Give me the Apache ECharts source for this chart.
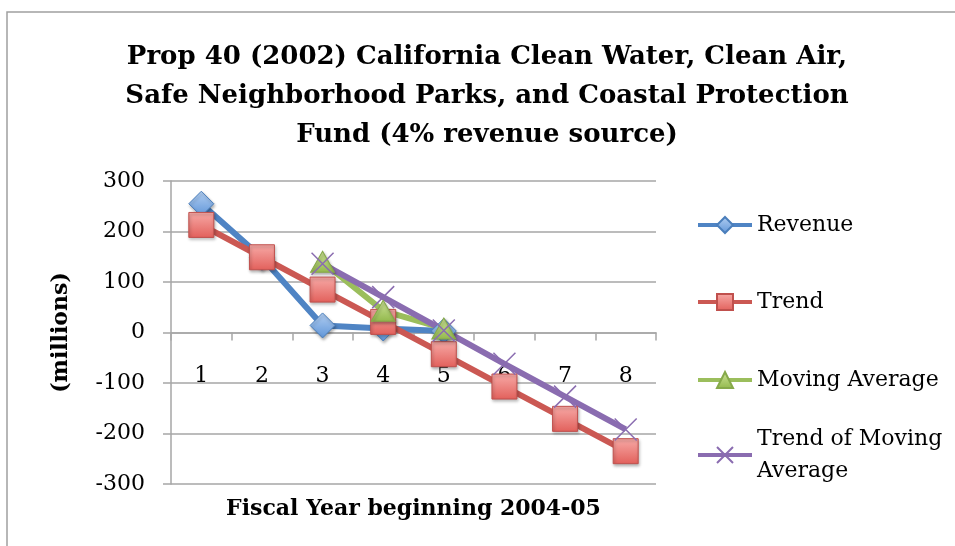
<!DOCTYPE html>
<html>
<head>
<meta charset="utf-8">
<script src="https://cdn.jsdelivr.net/npm/echarts@6/dist/echarts.min.js"></script>
<style>
  html, body { margin: 0; padding: 0; background: #fff; }
  #chart { width: 955px; height: 546px; }
</style>
</head>
<body>
<div id="chart"></div>
<script>
// Fiscal year index (1 = 2004-05)
const categories = ['1', '2', '3', '4', '5', '6', '7', '8'];
// Values in millions of dollars
const revenue = [255, 148, 14, 8, 3, null, null, null];
const trend = [213, 149, 85, 21, -43, -107, -171, -235];
const movingAverage = [null, null, 140, 43, 8, null, null, null];
const trendOfMovingAverage = [null, null, 136, 70, 4, -62, -127, -192];
const yTicks = { min: -300, max: 300, interval: 100 };

const seriesNames = ['Revenue', 'Trend', 'Moving Average', 'Trend of Moving Average'];

const FONT = '"DejaVu Serif", serif';
const GRID_GRAY = '#a6a6a6';

function vGrad(top, bottom) {
  return new echarts.graphic.LinearGradient(0, 0, 0, 1, [
    { offset: 0, color: top },
    { offset: 1, color: bottom }
  ]);
}

const markerShadow = {
  shadowBlur: 3,
  shadowOffsetX: 1,
  shadowOffsetY: 2,
  shadowColor: 'rgba(0,0,0,0.3)'
};

const chart = echarts.init(document.getElementById('chart'), null, { renderer: 'canvas' });

function legendFor(name, top, extraText) {
  return {
    data: [name],
    orient: 'vertical',
    left: 696,
    top: top,
    padding: 0,
    itemWidth: 54,
    itemHeight: 20,
    itemGap: 0,
    selectedMode: false,
    lineStyle: { width: 4 },
    formatter: extraText || undefined,
    textStyle: Object.assign({
      fontFamily: FONT,
      fontSize: 22,
      color: '#000',
      lineHeight: 32
    }, extraText ? { padding: [32, 0, 0, 0] } : {})
  };
}

chart.setOption({
  animation: false,
  backgroundColor: '#fff',
  title: {
    text: 'Prop 40 (2002) California Clean Water, Clean Air,\nSafe Neighborhood Parks, and Coastal Protection\nFund (4% revenue source)',
    left: 487,
    top: 38,
    padding: 0,
    textAlign: 'center',
    textStyle: {
      fontFamily: FONT,
      fontWeight: 'bold',
      fontSize: 26,
      lineHeight: 39,
      color: '#000'
    }
  },
  graphic: [{
    type: 'polyline',
    shape: { points: [[7, 546], [7, 12], [955, 12]] },
    style: { stroke: '#a0a0a0', lineWidth: 1.5, fill: null },
    silent: true
  }],
  legend: [
    legendFor('Revenue', 209),
    legendFor('Trend', 286),
    legendFor('Moving Average', 364),
    legendFor('Trend of Moving Average', 407, 'Trend of Moving\nAverage')
  ],
  grid: { left: 171, right: 299, top: 181, bottom: 62, containLabel: false, outerBoundsMode: 'none' },
  xAxis: {
    type: 'category',
    data: categories,
    boundaryGap: true,
    name: 'Fiscal Year beginning 2004-05',
    nameLocation: 'middle',
    nameGap: 14,
    nameTextStyle: { fontFamily: FONT, fontWeight: 'bold', fontSize: 22, color: '#000' },
    axisLine: { onZero: true, lineStyle: { color: GRID_GRAY, width: 1.5 } },
    axisTick: { show: true, inside: false, length: 8, lineStyle: { color: GRID_GRAY, width: 1.5 } },
    axisLabel: { margin: -119, interval: 0, fontFamily: FONT, fontSize: 22, color: '#000' },
    splitLine: { show: false }
  },
  yAxis: {
    type: 'value',
    min: yTicks.min,
    max: yTicks.max,
    interval: yTicks.interval,
    name: '(millions)',
    nameLocation: 'middle',
    nameGap: 99,
    nameRotate: 90,
    nameTextStyle: { fontFamily: FONT, fontWeight: 'bold', fontSize: 22, color: '#000' },
    axisLine: { show: true, lineStyle: { color: GRID_GRAY, width: 1.5 } },
    axisTick: { show: true, inside: false, length: 8, lineStyle: { color: GRID_GRAY, width: 1.5 } },
    axisLabel: { margin: 26, fontFamily: FONT, fontSize: 22, color: '#000' },
    splitLine: { show: true, lineStyle: { color: GRID_GRAY, width: 1.5 } }
  },
  series: [
    {
      name: seriesNames[0],
      type: 'line',
      data: revenue,
      symbol: 'diamond',
      symbolSize: 25,
      lineStyle: { color: '#4F84C4', width: 6 },
      itemStyle: Object.assign({
        color: vGrad('#b3cff2', '#5f95d8'),
        borderColor: '#4A7EBB',
        borderWidth: 1
      }, markerShadow)
    },
    {
      name: seriesNames[1],
      type: 'line',
      data: trend,
      symbol: 'rect',
      symbolSize: 25,
      lineStyle: { color: '#CB5853', width: 6 },
      itemStyle: Object.assign({
        color: vGrad('#f7aaa7', '#e2605b'),
        borderColor: '#C0504D',
        borderWidth: 1
      }, markerShadow)
    },
    {
      name: seriesNames[2],
      type: 'line',
      data: movingAverage,
      symbol: 'triangle',
      symbolSize: [24, 21],
      lineStyle: { color: '#9BBE5C', width: 6 },
      itemStyle: Object.assign({
        color: vGrad('#cfe59a', '#92b84c'),
        borderColor: '#86A94A',
        borderWidth: 1
      }, markerShadow)
    },
    {
      name: seriesNames[3],
      type: 'line',
      data: trendOfMovingAverage,
      symbol: 'path://M0 0L20 20M20 0L0 20',
      symbolSize: 22,
      lineStyle: { color: '#8A6CB0', width: 6 },
      itemStyle: {
        color: 'none',
        borderColor: '#8A6CB0',
        borderWidth: 1.5
      }
    }
  ]
});
</script>
</body>
</html>
